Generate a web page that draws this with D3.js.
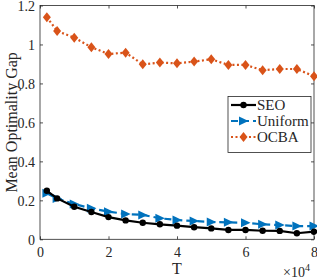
<!DOCTYPE html>
<html><head><meta charset="utf-8">
<script src="https://cdn.jsdelivr.net/npm/d3@7/dist/d3.min.js"></script>
</head><body style="margin:0;background:#fff"><svg id="c" width="317" height="279"></svg>
<script>
const T = [0.2,0.5,1,1.5,2,2.5,3,3.5,4,4.5,5,5.5,6,6.5,7,7.5,8];
const seo = [0.249,0.21,0.167,0.14,0.114,0.097,0.085,0.077,0.07,0.062,0.056,0.048,0.048,0.044,0.043,0.031,0.039];
const uniform = [0.236,0.21,0.181,0.159,0.142,0.13,0.125,0.108,0.099,0.094,0.089,0.087,0.085,0.077,0.073,0.068,0.068];
const ocba = [1.14,1.069,1.035,0.986,0.951,0.958,0.898,0.907,0.903,0.912,0.924,0.895,0.895,0.868,0.874,0.874,0.837];
const xTicks = [0,2,4,6,8];
const yTicks = [0,0.2,0.4,0.6,0.8,1,1.2];
const seriesNames = ["SEO","Uniform","OCBA"];

const FF = "'Liberation Serif'";
const svg = d3.select("#c").attr("font-family",FF);
const L=40,R=314,Tp=5.5,B=239.3;
const x = d3.scaleLinear().domain([0,8]).range([L,R]);
const y = d3.scaleLinear().domain([0,1.2]).range([B,Tp]);
svg.append("rect").attr("x",L).attr("y",Tp).attr("width",R-L).attr("height",B-Tp).attr("fill","none").attr("stroke","#262626").attr("stroke-width",0.8);
const fmt = d=>d===0?"0":String(d);
function styleAxis(a){
  a.attr("font-family",FF).attr("font-size",14);
  a.select(".domain").remove();
  a.selectAll("line").attr("stroke","#262626").attr("stroke-width",0.8);
  a.selectAll("text").attr("font-family",FF).attr("font-size",14).attr("fill","#262626");
}
const xa = svg.append("g").attr("transform",`translate(0,${B})`).call(d3.axisBottom(x).tickValues(xTicks).tickSize(-3).tickPadding(6).tickFormat(fmt));
styleAxis(xa); xa.selectAll("text").attr("dy","0.85em");
const xt = svg.append("g").attr("transform",`translate(0,${Tp})`).call(d3.axisTop(x).tickValues(xTicks).tickSize(-3).tickFormat(""));
styleAxis(xt);
const ya = svg.append("g").attr("transform",`translate(${L},0)`).call(d3.axisLeft(y).tickValues(yTicks).tickSize(-3).tickPadding(5).tickFormat(fmt));
styleAxis(ya); ya.selectAll("text").attr("dy","0.35em");
const yr = svg.append("g").attr("transform",`translate(${R},0)`).call(d3.axisRight(y).tickValues(yTicks).tickSize(-3).tickFormat(""));
styleAxis(yr);
svg.append("text").attr("x",(L+R)/2).attr("y",274).attr("text-anchor","middle").attr("font-family",FF).attr("font-size",16).attr("fill","#262626").text("T");
svg.append("text").attr("transform",`translate(17,${(Tp+B)/2}) rotate(-90)`).attr("text-anchor","middle").attr("font-family",FF).attr("font-size",16).attr("fill","#262626").text("Mean Optimality Gap");
const m = svg.append("text").attr("x",283).attr("y",277).attr("font-family",FF).attr("font-size",14).attr("fill","#262626");
m.append("tspan").text("×10");
m.append("tspan").attr("dy",-6).attr("font-size",10).text("4");

const cols = ["#000000","#0072BD","#D95319"];
const data = [seo,uniform,ocba];
const dash = [null,"7,4","2,2.5"];
const line = d3.line().x((d,i)=>x(T[i])).y(d=>y(d));
function marker(sel,k,px,py){
  if(k===0) sel.append("circle").attr("cx",px).attr("cy",py).attr("r",3.2).attr("fill",cols[0]);
  else if(k===1) sel.append("path").attr("d",`M${px-4.5},${py-4.5}L${px+5},${py}L${px-4.5},${py+4.5}Z`).attr("fill",cols[1]);
  else sel.append("path").attr("d",`M${px},${py-5}L${px+4},${py}L${px},${py+5}L${px-4},${py}Z`).attr("fill",cols[2]);
}
[2,1,0].forEach(k=>{
  const gg = svg.append("g");
  gg.append("path").datum(data[k]).attr("d",line).attr("fill","none").attr("stroke",cols[k]).attr("stroke-width",2.2).attr("stroke-dasharray",dash[k]);
  data[k].forEach((v,i)=>marker(gg,k,x(T[i]),y(v)));
});
const lg = svg.append("g");
lg.append("rect").attr("x",228).attr("y",96.5).attr("width",83).attr("height",56).attr("fill","#fff").attr("stroke","#262626").attr("stroke-width",0.8);
seriesNames.forEach((n,k)=>{
  const yy = 105+k*16;
  lg.append("line").attr("x1",231).attr("x2",256).attr("y1",yy).attr("y2",yy).attr("stroke",cols[k]).attr("stroke-width",2.2).attr("stroke-dasharray",dash[k]);
  marker(lg,k,243.5,yy);
  lg.append("text").attr("x",257).attr("y",yy+5).attr("font-family",FF).attr("font-size",15).attr("fill","#262626").text(n);
});
</script></body></html>
